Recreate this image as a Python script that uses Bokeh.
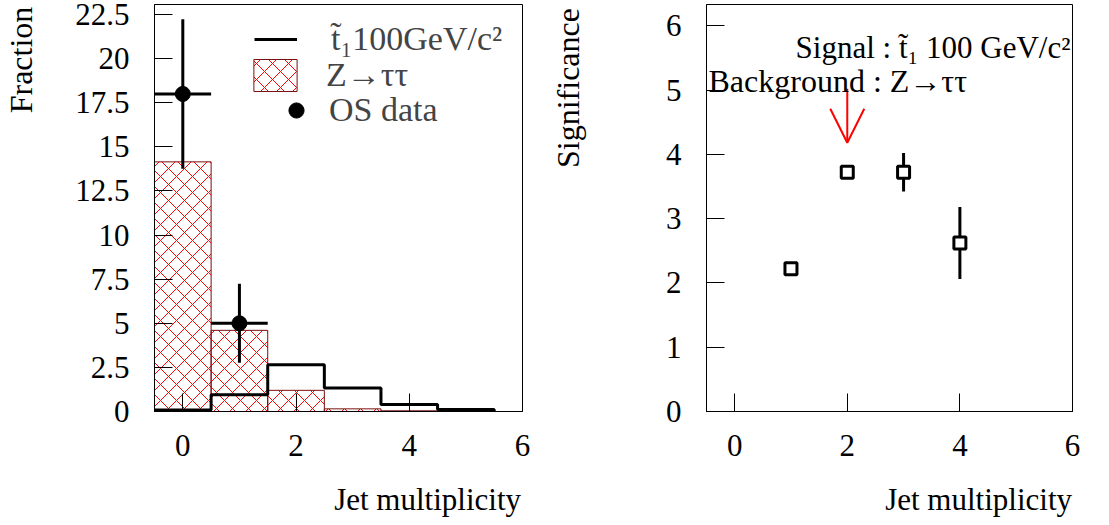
import numpy as np
from bokeh.plotting import figure
from bokeh.layouts import row
from bokeh.models import (Range1d, FixedTicker, Label, Legend, LegendItem,
                          Arrow, OpenHead)
from bokeh.embed import file_html
from bokeh.resources import INLINE

# ---------------- data ----------------
jet_bins = [0, 1, 2, 3, 4, 5]
ztautau = [14.15, 4.6, 1.2, 0.15, 0.04, 0.0]
stop_signal = [0.08, 0.95, 2.65, 1.33, 0.4, 0.12]
os_data_x = [0, 1]
os_data_y = [18.0, 5.0]
os_data_err = [4.24, 2.24]

sig_x = [1, 2, 3, 4]
sig_y = [2.22, 3.72, 3.72, 2.62]
sig_err = [0.04, 0.06, 0.3, 0.56]

x_ticks = [0, 2, 4, 6]
left_y_ticks = [0, 2.5, 5, 7.5, 10, 12.5, 15, 17.5, 20, 22.5]
left_y_labels = ["0", "2.5", "5", "7.5", "10", "12.5", "15", "17.5", "20", "22.5"]
right_y_ticks = [0, 1, 2, 3, 4, 5, 6]

legend_signal = "t\u0303\u2081100GeV/c\u00b2"
legend_bkg = "Z\u2192\u03c4\u03c4"
legend_data = "OS data"
text_signal = "Signal : t\u0303\u2081 100 GeV/c\u00b2"
text_bkg = "Background : Z\u2192\u03c4\u03c4"
x_title = "Jet multiplicity"
y_title_left = "Fraction"
y_title_right = "Significance"

FONT = "Liberation Serif"
# approximate text widths (em) of the axis titles; used to push the centred
# axis labels to the end of their axis (ROOT-style right/top alignment)
EM = {x_title: 6.03, y_title_left: 3.33, y_title_right: 5.0}
NBSP = "\u00a0"
FW1, FW2, FH = 368, 366, 407


def end_aligned(text, size_px, span_px):
    pad = span_px - EM[text] * size_px
    n = max(0, int(round(pad / (0.25 * size_px))))
    return NBSP * n + text


def style(p, yticks, ylabels=None):
    p.xgrid.visible = False
    p.ygrid.visible = False
    p.outline_line_color = "black"
    p.outline_line_width = 1
    p.background_fill_color = "white"
    p.border_fill_color = "white"
    p.xaxis.ticker = FixedTicker(ticks=x_ticks)
    p.yaxis.ticker = FixedTicker(ticks=yticks)
    if ylabels is not None:
        p.yaxis.major_label_overrides = {t: l for t, l in zip(yticks, ylabels)}
    for ax in (p.xaxis[0], p.yaxis[0]):
        ax.major_tick_in = 18
        ax.major_tick_out = 0
        ax.minor_tick_line_color = None
        ax.major_tick_line_color = "black"
        ax.axis_line_color = "black"
        ax.major_label_text_font = FONT
        ax.major_label_text_font_size = "31px"
        ax.major_label_text_color = "black"
        ax.axis_label_text_font = FONT
        ax.axis_label_text_font_style = "normal"
        ax.axis_label_text_color = "black"
    p.xaxis.major_label_standoff = 23
    p.yaxis.major_label_standoff = 25


def titles(p, fw, ytitle, ystand, top_gap):
    p.xaxis.axis_label = end_aligned(x_title, 31, fw)
    p.xaxis.axis_label_text_font_size = "31px"
    p.xaxis.axis_label_standoff = 23
    p.yaxis.axis_label = end_aligned(ytitle, 32, FH - 2 * top_gap)
    p.yaxis.axis_label_text_font_size = "32px"
    p.yaxis.axis_label_standoff = ystand


def lab(p, text, x, y, size, align="left"):
    p.add_layout(Label(x=x, y=y, x_units="screen", y_units="screen", text=text,
                       text_font=FONT, text_font_size=size, text_align=align,
                       text_baseline="alphabetic", text_color="black"))


def add_leg(p, label, rend, loc, gw, gh, standoff):
    leg = Legend(items=[LegendItem(label=label, renderers=[rend])], location=loc,
                 glyph_width=gw, glyph_height=gh, label_height=gh,
                 label_standoff=standoff, label_text_font=FONT,
                 label_text_font_size="34px", padding=0, margin=0, spacing=0,
                 border_line_color=None, background_fill_alpha=0)
    p.add_layout(leg)


# ---------------- left panel ----------------
p1 = figure(frame_width=FW1, frame_height=FH, min_border_left=152, min_border_right=21,
            min_border_top=4, min_border_bottom=110,
            x_range=Range1d(-0.5, 6), y_range=Range1d(0, 23.07),
            output_backend="svg", toolbar_location=None)
style(p1, left_y_ticks, left_y_labels)
titles(p1, FW1, y_title_left, 33, 1)

lo = [b - 0.5 for b in jet_bins]
hi = [b + 0.5 for b in jet_bins]
bkg_r = p1.quad(left=lo, right=hi, bottom=0, top=ztautau, fill_color=None,
                hatch_pattern="diagonal_cross", hatch_color="red", hatch_scale=16,
                hatch_weight=1, line_color="#7a1010", line_width=1)

step_x = lo + [hi[-1]]
step_y = stop_signal + [0]
sig_r = p1.step(step_x, step_y, mode="after", line_color="black", line_width=3)

p1.segment(x0=[x - 0.5 for x in os_data_x], x1=[x + 0.5 for x in os_data_x],
           y0=os_data_y, y1=os_data_y, line_color="black", line_width=3)
p1.segment(x0=os_data_x, x1=os_data_x,
           y0=[y - e for y, e in zip(os_data_y, os_data_err)],
           y1=[y + e for y, e in zip(os_data_y, os_data_err)],
           line_color="black", line_width=3)
data_r = p1.scatter(os_data_x, os_data_y, marker="circle", size=15,
                    fill_color="black", line_color="black")

add_leg(p1, legend_signal, sig_r, (100, 352), 43, 40, 34)
add_leg(p1, legend_bkg, bkg_r, (94, 316), 54, 40, 24)
add_leg(p1, legend_data, data_r, (123, 281), 38, 40, 14)

# ---------------- right panel ----------------
p2 = figure(frame_width=FW2, frame_height=FH, min_border_left=163, min_border_right=35,
            min_border_top=4, min_border_bottom=110,
            x_range=Range1d(-0.5, 6), y_range=Range1d(0, 6.33),
            output_backend="svg", toolbar_location=None)
style(p2, right_y_ticks)
titles(p2, FW2, y_title_right, 77, 3)

p2.segment(x0=sig_x, x1=sig_x,
           y0=[y - e for y, e in zip(sig_y, sig_err)],
           y1=[y + e for y, e in zip(sig_y, sig_err)],
           line_color="black", line_width=3)
p2.scatter(sig_x, sig_y, marker="square", size=12, fill_color="white",
           line_color="black", line_width=3)

best = int(np.argmax(sig_y))
p2.add_layout(Arrow(end=OpenHead(size=34, line_color="red", line_width=2),
                    x_start=sig_x[best], y_start=sig_y[best] + 1.3,
                    x_end=sig_x[best], y_end=sig_y[best] + 0.46,
                    line_color="red", line_width=2))

lab(p2, text_signal, 364, 364, "31px", align="right")
lab(p2, text_bkg, 2, 331, "32px", align="left")

layout = row(p1, p2)
open("out.html", "w").write(file_html(layout, INLINE))
